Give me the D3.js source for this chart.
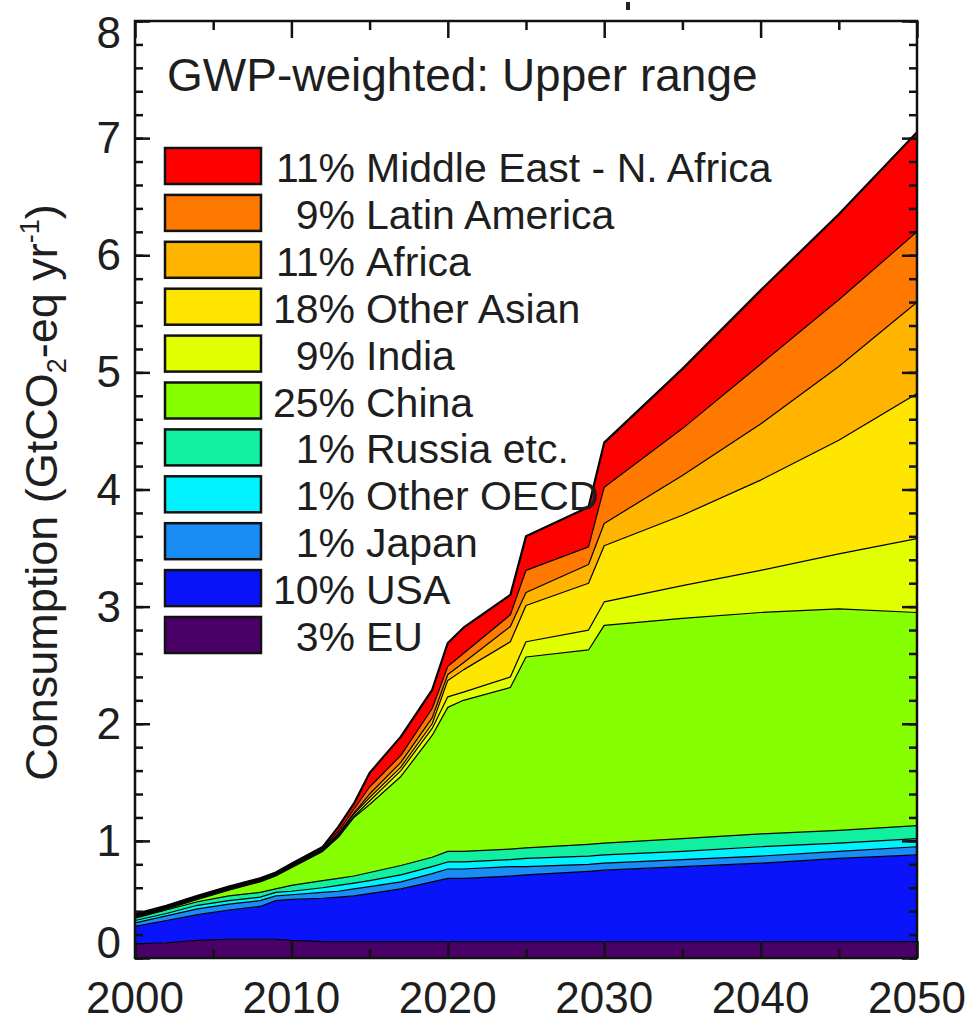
<!DOCTYPE html>
<html>
<head>
<meta charset="utf-8">
<script src="https://cdn.jsdelivr.net/npm/d3@7"></script>
<style>
  html, body { margin: 0; padding: 0; background: #fff; }
  text { font-family: "Liberation Sans", Arial, Helvetica, sans-serif; fill: #1e1e1e; }
</style>
</head>
<body>
<svg id="chart" width="973" height="1021"></svg>
<script>
// ── Data (GtCO2-eq per year, per region) ──────────────────────────────────
const YEARS = [2000, 2002, 2004, 2006, 2008, 2009, 2010, 2012, 2013, 2014, 2015, 2017,
               2019, 2020, 2021, 2024, 2025, 2029, 2030, 2035, 2040, 2045, 2050];

const EU          = [.12, .13, .15, .16, .16, .16, .15, .14, .14, .14, .14, .14, .14, .14, .14, .14, .14, .14, .14, .14, .14, .14, .14];
const USA         = [.15, .19, .22, .25, .28, .33, .35, .37, .38, .39, .41, .45, .51, .54, .54, .56, .57, .60, .61, .64, .67, .71, .74];
const JAPAN       = [.03, .04, .05, .05, .05, .04, .04, .05, .05, .06, .06, .06, .07, .08, .08, .08, .07, .06, .06, .06, .06, .06, .07];
const OTHER_OECD  = [.02, .02, .03, .03, .03, .03, .03, .04, .05, .05, .05, .06, .06, .06, .06, .06, .07, .07, .07, .07, .08, .07, .07];
const RUSSIA      = [.02, .03, .03, .04, .04, .03, .05, .06, .06, .06, .07, .08, .08, .09, .09, .09, .09, .10, .10, .11, .11, .11, .11];
const CHINA       = [.004, .006, .02, .05, .09, .11, .15, .25, .35, .50, .58, .76, 1.04, 1.23, 1.29, 1.38, 1.63, 1.66, 1.86, 1.88, 1.89, 1.89, 1.82];
const INDIA       = [.006, .006, .006, .006, .006, .006, .006, .006, .01, .01, .03, .05, .06, .09, .07, .09, .13, .17, .20, .28, .36, .47, .63];
const OTHER_ASIAN = [.006, .006, .006, .006, .006, .006, .006, .006, .01, .02, .03, .03, .04, .14, .19, .30, .31, .40, .48, .60, .77, .97, 1.24];
const AFRICA      = [.006, .006, .006, .006, .006, .006, .006, .006, .01, .01, .03, .04, .05, .05, .06, .13, .11, .16, .19, .34, .48, .63, .78];
const LATIN_AM    = [.006, .006, .006, .006, .006, .006, .006, .01, .02, .03, .06, .06, .08, .07, .08, .10, .19, .15, .31, .40, .51, .57, .60];
const MENA        = [.006, .006, .006, .006, .006, .006, .01, .01, .04, .05, .12, .16, .16, .20, .22, .17, .29, .34, .38, .51, .63, .73, .85];

// bottom → top stacking order
const REGIONS = ['EU', 'USA', 'Japan', 'Other OECD', 'Russia etc.', 'China', 'India',
                 'Other Asian', 'Africa', 'Latin America', 'Middle East - N. Africa'];
const SERIES  = [EU, USA, JAPAN, OTHER_OECD, RUSSIA, CHINA, INDIA, OTHER_ASIAN, AFRICA, LATIN_AM, MENA];
const SHARES  = ['3%', '10%', '1%', '1%', '1%', '25%', '9%', '18%', '11%', '9%', '11%'];
const COLORS  = ['#4b0068', '#0a14fa', '#1a8cf5', '#00f2ff', '#10f0a0', '#86ff00',
                 '#e0ff00', '#ffe600', '#ffb400', '#ff7800', '#ff0000'];

const Y_TICKS = [0, 1, 2, 3, 4, 5, 6, 7, 8];
const X_TICKS = [2000, 2010, 2020, 2030, 2040, 2050];

// ── Layout ────────────────────────────────────────────────────────────────
const W = 973, H = 1021;
const M = { top: 21, right: 56, bottom: 63, left: 135 };
const svg = d3.select('#chart');

const x = d3.scaleLinear().domain([2000, 2050]).range([M.left, W - M.right]);
const y = d3.scaleLinear().domain([0, 8]).range([H - M.bottom, M.top]);

const table = YEARS.map((yr, i) => {
  const row = { year: yr };
  REGIONS.forEach((k, j) => { row[k] = SERIES[j][i]; });
  return row;
});
const stacked = d3.stack().keys(REGIONS)(table);

svg.append('defs').append('clipPath').attr('id', 'plot-clip')
  .append('rect')
  .attr('x', M.left).attr('y', M.top)
  .attr('width', W - M.left - M.right).attr('height', H - M.top - M.bottom);

// ── Stacked areas ─────────────────────────────────────────────────────────
const area = d3.area()
  .x(d => x(d.data.year))
  .y0(d => y(d[0]))
  .y1(d => y(d[1]));
const edge = d3.line()
  .x(d => x(d.data.year))
  .y(d => y(d[1]));

const plotG = svg.append('g').attr('clip-path', 'url(#plot-clip)');
plotG.selectAll('path.layer').data(stacked).join('path')
  .attr('class', 'layer')
  .attr('fill', (d, i) => COLORS[i])
  .attr('d', area);
plotG.selectAll('path.edge').data(stacked).join('path')
  .attr('class', 'edge')
  .attr('fill', 'none')
  .attr('stroke', '#000')
  .attr('stroke-width', (d, i) => i === stacked.length - 1 ? 2.2 : 1.2)
  .attr('stroke-linejoin', 'round')
  .attr('d', edge);

// ── Ticks (inward, on all four sides) ─────────────────────────────────────
const yMinor = y.ticks(40), yMajor = Y_TICKS;
const xMinor = d3.range(2005, 2050, 10), xMajor = X_TICKS;

function styleTicks(g) {
  g.select('.domain').remove();
  g.selectAll('line').attr('stroke', '#111').attr('stroke-width', 2.5);
  g.selectAll('text').remove();
}
svg.append('g').attr('transform', `translate(${M.left},0)`)
  .call(d3.axisRight(y).tickValues(yMinor).tickSize(8)).call(styleTicks);
svg.append('g').attr('transform', `translate(${M.left},0)`)
  .call(d3.axisRight(y).tickValues(yMajor).tickSize(15)).call(styleTicks);
svg.append('g').attr('transform', `translate(${W - M.right},0)`)
  .call(d3.axisLeft(y).tickValues(yMinor).tickSize(8)).call(styleTicks);
svg.append('g').attr('transform', `translate(${W - M.right},0)`)
  .call(d3.axisLeft(y).tickValues(yMajor).tickSize(15)).call(styleTicks);
svg.append('g').attr('transform', `translate(0,${H - M.bottom})`)
  .call(d3.axisTop(x).tickValues(xMinor).tickSize(9)).call(styleTicks);
svg.append('g').attr('transform', `translate(0,${H - M.bottom})`)
  .call(d3.axisTop(x).tickValues(xMajor).tickSize(17)).call(styleTicks);
svg.append('g').attr('transform', `translate(0,${M.top})`)
  .call(d3.axisBottom(x).tickValues(xMinor).tickSize(9)).call(styleTicks);
svg.append('g').attr('transform', `translate(0,${M.top})`)
  .call(d3.axisBottom(x).tickValues(xMajor).tickSize(17)).call(styleTicks);

// frame
svg.append('rect')
  .attr('x', M.left).attr('y', M.top)
  .attr('width', W - M.left - M.right).attr('height', H - M.top - M.bottom)
  .attr('fill', 'none').attr('stroke', '#111').attr('stroke-width', 2.5);

// stray mark left over from the panel above
svg.append('rect').attr('x', 626).attr('y', 2).attr('width', 4).attr('height', 8).attr('fill', '#222');

// ── Tick labels ───────────────────────────────────────────────────────────
svg.append('g').selectAll('text').data(Y_TICKS).join('text')
  .attr('x', M.left - 14)
  .attr('y', d => Math.min(Math.max(y(d) + 15, M.top + 27), H - M.bottom))
  .attr('text-anchor', 'end')
  .attr('font-size', 44)
  .text(d => d);

svg.append('g').selectAll('text').data(X_TICKS).join('text')
  .attr('x', d => x(d))
  .attr('y', 1013)
  .attr('text-anchor', 'middle')
  .attr('font-size', 44)
  .text(d => d);

// y axis title
const yTitle = svg.append('text')
  .attr('transform', `translate(57,${(M.top + H - M.bottom) / 2 + 3}) rotate(-90)`)
  .attr('text-anchor', 'middle')
  .attr('font-size', 45);
yTitle.append('tspan').text('Consumption (GtCO');
yTitle.append('tspan').attr('font-size', 27).attr('dy', 9).text('2');
yTitle.append('tspan').attr('dy', -9).text('-eq yr');
yTitle.append('tspan').attr('font-size', 27).attr('dy', -18).text('-1');
yTitle.append('tspan').attr('dy', 18).text(')');

// panel title
svg.append('text')
  .attr('x', 167).attr('y', 91)
  .attr('font-size', 46)
  .text('GWP-weighted: Upper range');

// ── Legend (top → bottom mirrors stack order) ─────────────────────────────
const legendItems = REGIONS.map((name, i) => ({ name, share: SHARES[i], color: COLORS[i] })).reverse();
const LEG_X = 165, LEG_Y = 148, LEG_STEP = 46.9, BOX_W = 96, BOX_H = 36;
const legG = svg.append('g');
const rows = legG.selectAll('g').data(legendItems).join('g')
  .attr('transform', (d, i) => `translate(0,${LEG_Y + i * LEG_STEP})`);
rows.append('rect')
  .attr('x', LEG_X).attr('y', 0)
  .attr('width', BOX_W).attr('height', BOX_H)
  .attr('fill', d => d.color)
  .attr('stroke', '#111').attr('stroke-width', 2.5);
rows.append('text')
  .attr('x', 355).attr('y', BOX_H / 2 + 16)
  .attr('text-anchor', 'end')
  .attr('font-size', 41)
  .text(d => d.share);
rows.append('text')
  .attr('x', 366).attr('y', BOX_H / 2 + 16)
  .attr('font-size', 41)
  .text(d => d.name);
</script>
</body>
</html>
